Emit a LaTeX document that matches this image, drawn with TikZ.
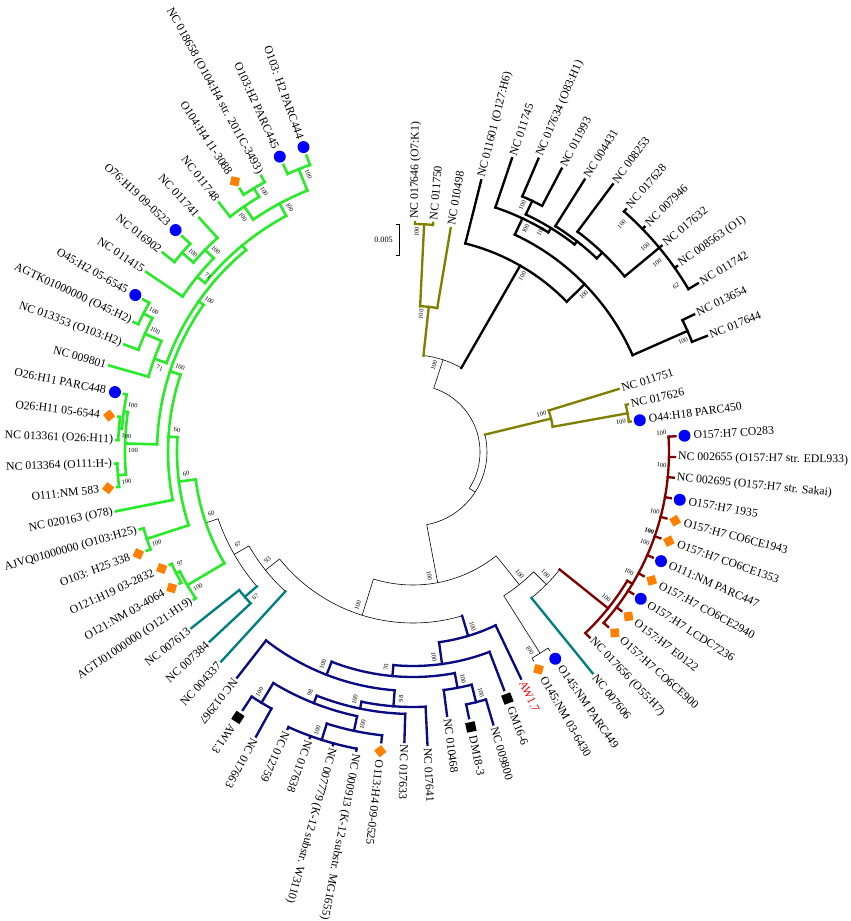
\documentclass[tikz,border=0pt]{standalone}
\usepackage{fontspec}
\setmainfont{Liberation Serif}
\usepackage{tikz}

\definecolor{greenc}{RGB}{40,235,40}
\definecolor{olivec}{RGB}{128,128,0}
\definecolor{darkredc}{RGB}{128,0,0}
\definecolor{tealc}{RGB}{0,128,128}
\definecolor{navyc}{RGB}{10,10,130}
\definecolor{dotblue}{RGB}{0,0,255}
\definecolor{dorange}{RGB}{255,128,0}
\definecolor{awred}{RGB}{255,0,0}

\def\nomark{none}
% internal node: name, style, angle, parent radius, radius, arc from, arc to, support, side
\newcommand{\cld}[9]{%
  \draw[#2] (#3:#4) -- (#3:#5) coordinate (#1);
  \draw[#2] (#6:#5) arc[start angle=#6, end angle=#7, radius=#5*0.03cm];
  \pgfmathsetmacro\bsrot{cos(#3)<0 ? #3+180 : #3}%
  \node[bs, rotate=\bsrot] (#1l) at ({#3+(#9)*420/#5}:{#5-8}) {#8};
}
% leaf: index, style, parent radius, tip radius, marker, text
\newcommand{\tipleaf}[6]{%
  \pgfmathsetmacro\lfang{89.5-4.53*(#1-1)}%
  \draw[#2] (\lfang:#3) -- (\lfang:#4);
  \def\lfmk{#5}%
  \ifx\lfmk\nomark\def\lfgap{#4+3}\else
    \node[#5, rotate=\lfang] (m#1) at (\lfang:{#4+9}) {};
    \def\lfgap{#4+18}\fi
  \ifnum#1>49
    \node[leaflab, anchor=east, rotate=\lfang+180] (t#1) at (\lfang:{\lfgap}) {#6};
  \else
    \node[leaflab, anchor=west, rotate=\lfang] (t#1) at (\lfang:{\lfgap}) {#6};
  \fi
}
\newcommand{\bsat}[4]{%
  \pgfmathsetmacro\bsrot{cos(#2)<0 ? #2+180 : #2}%
  \node[bs, rotate=\bsrot] (#1) at (#2:#3) {#4};
}

\begin{document}
\begin{tikzpicture}[x=0.03cm, y=0.03cm,
    leaflab/.style={inner sep=0, font=\fontsize{10}{12}\selectfont},
    bs/.style={inner sep=0, font=\fontsize{5.5}{6}\selectfont},
    mkdot/.style={circle, fill=dotblue, minimum size=0.36cm, inner sep=0},
    mkdia/.style={rectangle, fill=dorange, minimum size=0.26cm, inner sep=0, rotate=45},
    mksq/.style={rectangle, fill=black, minimum size=0.29cm, inner sep=0},
    thinb/.style={line width=0.5pt},
    bkb/.style={line width=2pt, line cap=rect},
    olb/.style={line width=2pt, line cap=rect, olivec},
    drb/.style={line width=2pt, line cap=rect, darkredc},
    tlb/.style={line width=2pt, line cap=rect, tealc},
    nvb/.style={line width=2pt, line cap=rect, navyc},
    grb/.style={line width=2.2pt, line cap=rect, greenc}]
\path[use as bounding box, fill=white] (-413,-469) rectangle (438,452);

\cld{R}{thinb}{19.55}{67}{67}{71.95}{-32.85}{}{1}
\cld{Q}{thinb}{-32.85}{67}{74}{13.6}{-79.3}{}{1}
\cld{U}{thinb}{71.95}{67}{97}{83.8}{60.1}{100}{1}
\cld{L}{thinb}{-79.3}{74}{133}{-51.3}{-107.3}{100}{-1}
\cld{L2}{thinb}{-51.3}{133}{170}{-44.8}{-57.73}{100}{1}
\cld{L3}{thinb}{-44.8}{170}{188}{-38.7}{-50.93}{100}{1}
\cld{P3334}{thinb}{-57.73}{170}{238}{-55.46}{-59.99}{100}{-1}
\cld{L1}{thinb}{-107.3}{133}{171}{-73.3}{-141.3}{100}{-1}
\cld{N93}{thinb}{-141.3}{171}{189}{-132.47}{-150.2}{93}{-1}
\cld{N67}{thinb}{-150.2}{189}{206}{-139.27}{-161.1}{67}{-1}

\cld{Ol1}{olb}{83.8}{97}{146}{87.2}{80.44}{100}{1}
\cld{P12}{olb}{87.2}{146}{228}{89.5}{84.97}{100}{1}
\tipleaf{1}{olb}{228}{230}{none}{NC 017646 (O7:K1)}
\tipleaf{2}{olb}{228}{230}{none}{NC 011750}
\tipleaf{3}{olb}{146}{227}{none}{NC 010498}

\cld{Bk0}{bkb}{60.1}{97}{215}{75.91}{44.35}{100}{-1}
\tipleaf{4}{bkb}{215}{280}{none}{NC 011601 (O127:H6)}
\cld{X}{bkb}{44.35}{215}{240}{64.9}{23.8}{100}{-1}
\cld{Y}{bkb}{64.9}{240}{258}{71.38}{58.35}{100}{-1}
\tipleaf{5}{bkb}{258}{310}{none}{NC 011745}
\cld{Y2}{bkb}{58.35}{258}{263}{64.6}{52.1}{100}{1}
\cld{P67}{bkb}{64.6}{263}{278}{66.85}{62.32}{100}{1}
\tipleaf{6}{bkb}{278}{319}{none}{NC 017634 (O83:H1)}
\tipleaf{7}{bkb}{278}{320}{none}{NC 011993}
\cld{N7}{bkb}{52.1}{263}{267}{57.79}{46.5}{}{1}
\tipleaf{8}{bkb}{267}{322}{none}{NC 004431}
\cld{N8}{bkb}{46.5}{267}{275}{53.26}{39.67}{}{1}
\tipleaf{9}{bkb}{275}{334}{none}{NC 008253}
\cld{G}{bkb}{39.67}{275}{320}{48.73}{30.61}{}{1}
\tipleaf{10}{bkb}{320}{323}{none}{NC 017628}
\tipleaf{11}{bkb}{320}{323}{none}{NC 007946}
\tipleaf{12}{bkb}{320}{323}{none}{NC 017632}
\tipleaf{13}{bkb}{320}{323}{none}{NC 008563 (O1)}
\tipleaf{14}{bkb}{320}{331}{none}{NC 011742}
\bsat{ga}{47.5}{309}{100}
\bsat{gb}{41.5}{310}{100}
\bsat{gc}{37.8}{309}{100}
\bsat{gd}{32.3}{311}{62}
\cld{Z}{bkb}{23.8}{240}{300}{26.08}{21.55}{100}{-1}
\tipleaf{15}{bkb}{300}{313}{none}{NC 013654}
\tipleaf{16}{bkb}{300}{316}{none}{NC 017644}

\cld{Ol2}{olb}{13.6}{74}{142}{17.02}{10.23}{100}{1}
\tipleaf{17}{olb}{142}{215}{none}{NC 011751}
\cld{P1819}{olb}{10.23}{142}{218}{12.49}{7.96}{100}{-1}
\tipleaf{18}{olb}{218}{220}{none}{NC 017626}
\tipleaf{19}{olb}{218}{220}{mkdot}{O44:H18 PARC450}

\cld{DR}{drb}{-38.7}{188}{250}{-31}{-46.4}{100}{1}
\tipleaf{31}{drb}{250}{256}{none}{NC 017656 (O55:H7)}
\cld{DR2}{drb}{-31}{250}{256}{3.43}{-41.87}{}{1}
\tipleaf{20}{drb}{256}{263}{mkdot}{O157:H7 CO283}
\tipleaf{21}{drb}{256}{262}{none}{NC 002655 (O157:H7 str. EDL933)}
\tipleaf{22}{drb}{256}{262}{none}{NC 002695 (O157:H7 str. Sakai)}
\tipleaf{23}{drb}{256}{262}{mkdot}{O157:H7 1935}
\tipleaf{24}{drb}{256}{262}{mkdia}{O157:H7 CO6CE1943}
\tipleaf{25}{drb}{256}{262}{mkdia}{O157:H7 CO6CE1353}
\tipleaf{26}{drb}{256}{262}{mkdot}{O111:NM PARC447}
\tipleaf{27}{drb}{256}{262}{mkdia}{O157:H7 CO6CE2940}
\tipleaf{28}{drb}{256}{262}{mkdot}{O157:H7 LCDC7236}
\tipleaf{29}{drb}{256}{262}{mkdia}{O157:H7 E0122}
\tipleaf{30}{drb}{256}{262}{mkdia}{O157:H7 CO6CE900}
\bsat{dra}{4.4}{249}{100}
\bsat{drb}{-3}{249}{100}
\bsat{drc}{-13.8}{249}{100}
\bsat{drd}{-18.4}{249}{\textbf{100}}
\bsat{dre}{-21.3}{249}{100}
\bsat{drf}{-29}{247}{100}
\tipleaf{32}{tlb}{188}{285}{none}{NC 007606}
\tipleaf{33}{thinb}{238}{242}{mkdot}{O145:NM PARC449}
\tipleaf{34}{thinb}{238}{242}{mkdia}{O145:NM 03-6430}

\cld{B}{nvb}{-73.3}{171}{192}{-64.52}{-82.2}{100}{1}
\tipleaf{35}{nvb}{192}{251}{none}{\color{awred}AW1.7}
\cld{B2}{nvb}{-82.2}{192}{214}{-69.05}{-95.25}{100}{-1}
\tipleaf{36}{nvb}{214}{255}{mksq}{GM16-6}
\cld{B3}{nvb}{-95.25}{214}{225}{-79.3}{-111.2}{70}{-1}
\cld{B4}{nvb}{-79.3}{225}{240}{-75.85}{-82.64}{100}{1}
\tipleaf{39}{nvb}{240}{266}{none}{NC 010468}
\cld{P3738}{nvb}{-75.85}{240}{258}{-73.58}{-78.11}{100}{1}
\tipleaf{37}{nvb}{258}{284}{none}{NC 009800}
\tipleaf{38}{nvb}{258}{272}{mksq}{DM18-3}
\cld{B5}{nvb}{-111.2}{225}{239}{-94.4}{-127.94}{100}{-1}
\tipleaf{49}{nvb}{239}{286}{none}{NC 012967}
\cld{B6}{nvb}{-94.4}{239}{255}{-87.17}{-101.65}{98}{1}
\tipleaf{40}{nvb}{255}{293}{none}{NC 017641}
\cld{B7}{nvb}{-101.65}{255}{262}{-91.7}{-111.55}{100}{-1}
\tipleaf{41}{nvb}{262}{290}{none}{NC 017633}
\cld{B8}{nvb}{-111.55}{262}{270}{-101.95}{-121.15}{98}{-1}
\cld{P4748}{nvb}{-121.15}{270}{293}{-118.88}{-123.41}{100}{-1}
\tipleaf{47}{nvb}{293}{325}{none}{NC 017663}
\tipleaf{48}{nvb}{293}{309}{mksq}{AW1.3}
\cld{B9}{nvb}{-101.95}{270}{285}{-96.23}{-107.6}{100}{1}
\tipleaf{42}{nvb}{285}{292}{mkdia}{O113:H4 09-0525}
\cld{GK}{nvb}{-107.6}{285}{302}{-100.76}{-114.35}{100}{-1}
\tipleaf{43}{nvb}{302}{304}{none}{NC 000913 (K-12 substr. MG1655)}
\tipleaf{44}{nvb}{302}{304}{none}{NC 007779 (K-12 substr. W3110)}
\tipleaf{45}{nvb}{302}{304}{none}{NC 017638}
\tipleaf{46}{nvb}{302}{304}{none}{NC 012759}

\tipleaf{50}{tlb}{189}{284}{none}{NC 004337}
\cld{P5152}{tlb}{-139.27}{206}{222}{-137}{-141.53}{67}{1}
\tipleaf{51}{tlb}{222}{278}{none}{NC 007384}
\tipleaf{52}{tlb}{222}{283}{none}{NC 007613}

\draw[thinb] (-161.1:206) -- (-161.1:219) coordinate (C60);
\draw[grb] (-149.46:219) arc[start angle=-149.46, end angle=-172.8, radius=219*0.03cm];
\bsat{C60l}{-163}{211}{60}
\cld{G5355}{grb}{-149.46}{219}{262}{-146.06}{-152.86}{100}{1}
\tipleaf{53}{grb}{262}{264}{none}{AGTJ01000000 (O121:H19)}
\cld{P5455}{grb}{-152.86}{262}{266}{-150.59}{-155.12}{97}{-1}
\tipleaf{54}{grb}{266}{268}{mkdia}{O121:NM 03-4064}
\tipleaf{55}{grb}{266}{268}{mkdia}{O121:H19 03-2832}
\cld{B60}{grb}{-172.8}{219}{236}{-161.92}{-183.6}{60}{-1}
\cld{P5657}{grb}{-161.92}{236}{280}{-159.65}{-164.18}{100}{1}
\tipleaf{56}{grb}{280}{284}{mkdia}{O103: H25 338}
\tipleaf{57}{grb}{280}{284}{none}{AJVQ01000000 (O103:H25)}
\cld{A60}{grb}{-183.6}{236}{245}{-168.71}{-198.4}{60}{-1}
\tipleaf{58}{grb}{245}{303}{none}{NC 020163 (O78)}
\cld{Gup}{grb}{-198.4}{245}{256}{-181.7}{-215.1}{100}{-1}
\cld{G5963}{grb}{-181.7}{256}{288}{-175.5}{-187.97}{100}{1}
\cld{P5960}{grb}{-175.5}{288}{296}{-173.24}{-177.77}{100}{1}
\tipleaf{59}{grb}{296}{298}{mkdia}{O111:NM 583}
\tipleaf{60}{grb}{296}{298}{none}{NC 013364 (O111:H-)}
\cld{G6163}{grb}{-187.97}{288}{292}{-184.57}{-191.36}{100}{-1}
\cld{P6162}{grb}{-184.57}{292}{295}{-182.3}{-186.83}{100}{1}
\tipleaf{61}{grb}{295}{297}{none}{NC 013361 (O26:H11)}
\tipleaf{62}{grb}{295}{297}{mkdia}{O26:H11 05-6544}
\tipleaf{63}{grb}{292}{295}{mkdot}{O26:H11 PARC448}
\cld{Gtop}{grb}{-215.1}{256}{262}{-199.85}{-230.4}{100}{-1}
\cld{G6467}{grb}{-199.85}{262}{275}{-195.89}{-203.8}{71}{1}
\tipleaf{64}{grb}{275}{316}{none}{NC 009801}
\cld{G6567}{grb}{-203.8}{275}{293}{-200.42}{-207.2}{100}{-1}
\tipleaf{65}{grb}{293}{308}{none}{NC 013353 (O103:H2)}
\cld{P6667}{grb}{-207.2}{293}{303}{-204.95}{-209.48}{100}{-1}
\tipleaf{66}{grb}{303}{308}{none}{AGTK01000000 (O45:H2)}
\tipleaf{67}{grb}{303}{310}{mkdot}{O45:H2 05-6545}
\cld{G6876}{grb}{-230.4}{262}{268}{-219.1}{-241.75}{}{-1}
\cld{G6871}{grb}{-219.1}{268}{278}{-214.01}{-224.2}{71}{-1}
\tipleaf{68}{grb}{278}{322}{none}{NC 011415}
\cld{G6971}{grb}{-224.2}{278}{290}{-220.8}{-227.6}{100}{-1}
\tipleaf{71}{grb}{290}{317}{none}{NC 011741}
\cld{P6970}{grb}{-220.8}{290}{305}{-218.54}{-223.07}{100}{-1}
\tipleaf{69}{grb}{305}{320}{none}{NC 016902}
\tipleaf{70}{grb}{305}{316}{mkdot}{O76:H19 09-0523}
\cld{G7276}{grb}{-241.75}{268}{282}{-235.5}{-248}{100}{-1}
\cld{G7274}{grb}{-235.5}{282}{298}{-232.13}{-238.9}{100}{1}
\tipleaf{72}{grb}{298}{316}{none}{NC 011748}
\cld{P7374}{grb}{-238.9}{298}{308}{-236.66}{-241.19}{100}{-1}
\tipleaf{73}{grb}{308}{315}{mkdia}{O104:H4 11-3088}
\tipleaf{74}{grb}{308}{315}{none}{NC 018658 (O104:H4 str. 2011C-3493)}
\cld{P7576}{grb}{-248}{282}{305}{-245.72}{-250.25}{100}{-1}
\tipleaf{75}{grb}{305}{315}{mkdot}{O103:H2 PARC445}
\tipleaf{76}{grb}{305}{315}{mkdot}{O103: H2 PARC444}

\coordinate (sbtop) at (-14,228);
\coordinate (sbbot) at (-14,197);
\draw[line width=0.6pt] ([xshift=-0.1cm]sbtop) -- (sbtop) -- (sbbot) -- ([xshift=-0.1cm]sbbot);
\node[inner sep=0, anchor=east, font=\fontsize{7}{8}\selectfont] (scale) at (-20,212) {0.005};
\end{tikzpicture}
\end{document}
